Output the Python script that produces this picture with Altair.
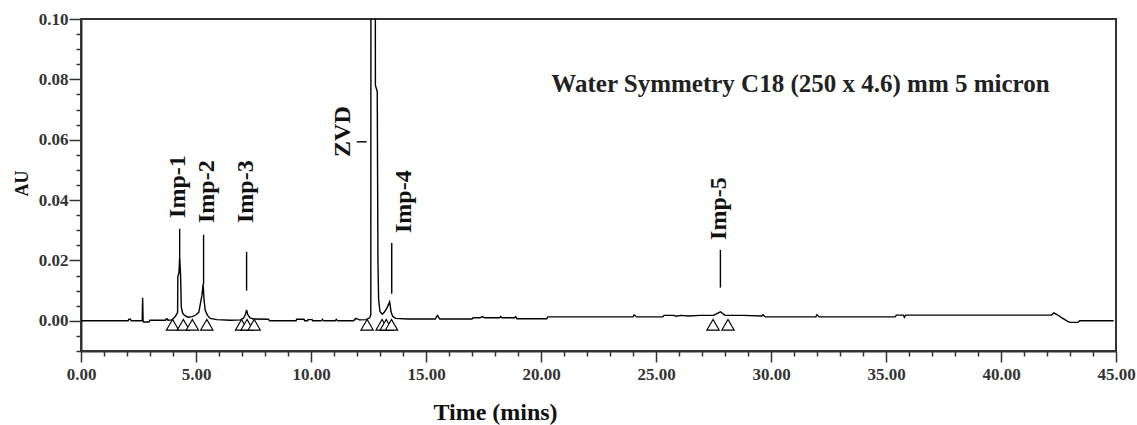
import altair as alt
import pandas as pd

# ---- chromatogram trace (time in minutes, absorbance in AU) ----
time_min = [0.00, 1.00, 2.05, 2.08, 2.15, 2.18, 2.66, 2.68, 2.70, 2.72, 2.95, 3.00, 3.10,
            3.68, 3.70, 3.76, 3.78, 3.95, 4.05, 4.15, 4.20, 4.21, 4.26, 4.29, 4.33, 4.36,
            4.42, 4.50, 4.65, 4.85, 5.00, 5.12, 5.20, 5.26, 5.31, 5.35, 5.40, 5.50, 5.62,
            5.90, 6.50, 6.95, 7.08, 7.15, 7.20, 7.25, 7.35, 7.50, 8.15, 8.20, 9.35, 9.38,
            9.70, 9.72, 9.85, 9.87, 10.05, 10.07, 10.45, 10.50, 10.55, 11.05, 11.10, 11.15,
            11.85, 11.95, 12.10, 12.40, 12.55, 12.60, 12.62, 12.72, 12.78, 12.80, 12.88,
            12.91, 12.94, 13.00, 13.10, 13.20, 13.30, 13.42, 13.48, 13.55, 13.68, 14.20,
            15.40, 15.50, 15.60, 17.00, 17.05, 17.35, 17.45, 17.55, 18.20, 18.25, 18.30,
            18.85, 18.90, 18.95, 20.25, 20.30, 24.00, 24.05, 24.15, 25.30, 25.35, 25.80,
            25.85, 26.10, 26.40, 26.90, 27.50, 27.80, 28.00, 28.80, 29.60, 29.65, 29.75,
            31.95, 32.00, 32.10, 35.40, 35.45, 35.75, 35.80, 35.85, 42.20, 42.30, 42.45,
            42.65, 42.90, 43.00, 43.35, 43.42, 44.90]
absorbance = [0.0000, 0.0000, 0.0000, 0.0005, 0.0005, 0.0000, 0.0000, 0.0076, 0.0000, -0.0004,
              -0.0004, 0.0002, 0.0002, 0.0002, 0.0006, 0.0006, 0.0002, 0.0003, 0.0010, 0.0020,
              0.0028, 0.0146, 0.0160, 0.0212, 0.0150, 0.0046, 0.0025, 0.0018, 0.0012, 0.0014,
              0.0020, 0.0028, 0.0060, 0.0085, 0.0122, 0.0070, 0.0035, 0.0018, 0.0008, 0.0004,
              0.0002, 0.0003, 0.0010, 0.0022, 0.0036, 0.0020, 0.0010, 0.0006, 0.0005, 0.0000,
              0.0000, 0.0005, 0.0005, 0.0000, 0.0000, 0.0004, 0.0004, 0.0000, 0.0000, 0.0005,
              0.0000, 0.0000, 0.0005, 0.0000, 0.0000, 0.0008, 0.0003, 0.0004, 0.0010, 0.0020,
              0.4000, 0.8000, 0.3000, 0.0780, 0.0760, 0.0200, 0.0070, 0.0030, 0.0022, 0.0030,
              0.0042, 0.0063, 0.0030, 0.0015, 0.0008, 0.0006, 0.0006, 0.0018, 0.0006, 0.0006,
              0.0010, 0.0010, 0.0014, 0.0010, 0.0010, 0.0014, 0.0010, 0.0010, 0.0014, 0.0007,
              0.0007, 0.0013, 0.0013, 0.0020, 0.0013, 0.0013, 0.0018, 0.0018, 0.0015, 0.0018,
              0.0016, 0.0018, 0.0018, 0.0030, 0.0018, 0.0018, 0.0016, 0.0020, 0.0013, 0.0013,
              0.0020, 0.0013, 0.0013, 0.0019, 0.0019, 0.0012, 0.0019, 0.0019, 0.0026, 0.0020,
              0.0010, -0.0002, -0.0005, -0.0005, 0.0000, 0.0000]

# ---- peak start/end markers ----
marker_time = [3.98, 4.45, 4.84, 5.47, 6.98, 7.22, 7.53, 12.44, 13.09, 13.27, 13.50, 27.48, 28.13]
marker_au = [-0.0013] * len(marker_time)

# ---- peak labels ----
label_names = ["Imp-1", "Imp-2", "Imp-3", "ZVD", "Imp-4", "Imp-5"]
label_time = [4.20, 5.46, 7.19, 11.39, 14.03, 27.72]
label_au = [0.0341, 0.0324, 0.0324, 0.0543, 0.0291, 0.0268]

# ---- label leader lines ----
leader_t = [4.29, 5.33, 7.20, 11.99, 13.51, 27.80]
leader_t2 = [4.29, 5.33, 7.20, 12.42, 13.51, 27.80]
leader_au = [0.0305, 0.0285, 0.0228, 0.0593, 0.0258, 0.0235]
leader_au2 = [0.0212, 0.0122, 0.0100, 0.0593, 0.0090, 0.0110]

# ---- note ----
note_text = ["Water Symmetry C18 (250 x 4.6) mm 5 micron"]
note_time = [20.45]
note_au = [0.0758]

# ---- axis ticks ----
x_ticks = [0, 1, 2, 3, 4, 5, 6, 7, 8, 9, 10, 11, 12, 13, 14, 15, 16, 17, 18, 19, 20, 21, 22,
           23, 24, 25, 26, 27, 28, 29, 30, 31, 32, 33, 34, 35, 36, 37, 38, 39, 40, 41, 42, 43,
           44, 45]
y_ticks = [-0.01, -0.005, 0.0, 0.005, 0.01, 0.015, 0.02, 0.025, 0.03, 0.035, 0.04, 0.045,
           0.05, 0.055, 0.06, 0.065, 0.07, 0.075, 0.08, 0.085, 0.09, 0.095, 0.10]

FONT = "Liberation Serif"
INK = "#111111"

trace = pd.DataFrame({"t": time_min, "au": absorbance})
markers = pd.DataFrame({"t": marker_time, "au": marker_au})
labels = pd.DataFrame({"t": label_time, "au": label_au, "name": label_names})
leaders = pd.DataFrame({"t": leader_t, "t2": leader_t2, "au": leader_au, "au2": leader_au2})
note = pd.DataFrame({"t": note_time, "au": note_au, "text": note_text})

xscale = alt.Scale(domain=[0, 45], nice=False, zero=False)
yscale = alt.Scale(domain=[-0.01, 0.10], nice=False, zero=False)

x_major = "datum.value % 5 === 0"
y_major = "abs(datum.value * 50 - round(datum.value * 50)) < 0.001 && datum.value > -0.001"

x_axis = alt.Axis(
    values=x_ticks,
    labelExpr=f"{x_major} ? format(datum.value, '.2f') : ''",
    tickSize={"condition": {"test": x_major, "value": 11}, "value": 5},
    labelPadding=4,
    labelFlush=False,
    labelOverlap=False,
    title="Time (mins)",
    titleX=414,
    titleY=68,
    titleAlign="center",
    titleBaseline="alphabetic",
    titleFontSize=24,
    grid=False,
)
y_axis = alt.Axis(
    values=y_ticks,
    labelExpr=f"({y_major}) ? format(datum.value, '.2f') : ''",
    tickSize={"condition": {"test": y_major, "value": 12}, "value": 5},
    labelPadding=1,
    labelFlush=False,
    labelOverlap=False,
    title="AU",
    titleX=-59,
    titleY=164,
    titleAngle=270,
    titleAlign="center",
    titleBaseline="middle",
    titleFontSize=18,
    grid=False,
)

X = alt.X("t:Q", scale=xscale, axis=x_axis)
Y = alt.Y("au:Q", scale=yscale, axis=y_axis)

line = alt.Chart(trace).mark_line(color="black", strokeWidth=1.4, clip=True).encode(x=X, y=Y)

rules = alt.Chart(leaders).mark_rule(color="black", strokeWidth=1.4).encode(
    x=X, x2="t2:Q", y=Y, y2="au2:Q",
)

tri = alt.Chart(markers).mark_point(
    shape="triangle-up", size=150, filled=True, fill="white", stroke="black",
    strokeWidth=1.2, opacity=1,
).encode(x=X, y=Y)

text = alt.Chart(labels).mark_text(
    angle=270, align="left", baseline="middle", font=FONT, fontWeight="bold",
    fontSize=24, color=INK,
).encode(x=X, y=Y, text="name:N")

note_mark = alt.Chart(note).mark_text(
    align="left", baseline="alphabetic", font=FONT, fontWeight="bold",
    fontSize=25, color="#222222",
).encode(x=X, y=Y, text="text:N")

chart = alt.layer(line, rules, tri, text, note_mark).properties(
    width=1035,
    height=332,
    autosize=alt.AutoSizeParams(type="none"),
    padding={"left": 81, "top": 19, "right": 21, "bottom": 74},
    background="white",
).configure_view(
    stroke="#333333", strokeWidth=2,
).configure_axis(
    domainColor="#333333", domainWidth=2,
    tickColor="#333333", tickWidth=1.5,
    labelFont=FONT, labelFontWeight="bold", labelFontSize=17, labelColor="#333333",
    titleFont=FONT, titleFontWeight="bold", titleColor=INK,
)

chart.save("out.html", embed_options={"renderer": "svg", "actions": False})
